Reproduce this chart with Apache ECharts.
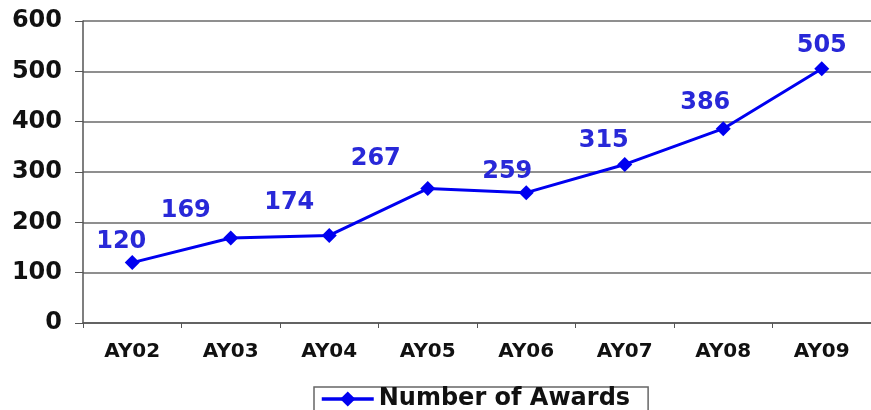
<!DOCTYPE html>
<html>
<head>
<meta charset="utf-8">
<script src="https://cdn.jsdelivr.net/npm/echarts@6/dist/echarts.min.js"></script>
<style>
  html, body { margin: 0; padding: 0; background: #fff; }
  #chart { width: 871px; height: 410px; }
</style>
</head>
<body>
<div id="chart"></div>
<script>
// academic years on the x axis
const years = ['AY02', 'AY03', 'AY04', 'AY05', 'AY06', 'AY07', 'AY08', 'AY09'];
// number of awards per year
const awards = [120, 169, 174, 267, 259, 315, 386, 505];
// y axis ticks
const yTicks = [0, 100, 200, 300, 400, 500, 600];

// value labels sit up and to the left of the points, not centred
const labelShift = [[-11, -21], [-45, -27], [-40, -33], [-52, -30], [-19, -21], [-21, -24], [-18, -26], [0, -23]];

const chart = echarts.init(document.getElementById('chart'), null, { renderer: 'canvas' });

const option = {
  backgroundColor: '#ffffff',
  animation: false,
  grid: { left: 83, top: 21, width: 798, height: 302, containLabel: false },
  legend: {
    data: [{ name: 'Number of Awards', itemStyle: { color: '#0000f0' } }],
    left: 314,
    top: 387,
    itemWidth: 52,
    itemHeight: 19,
    itemGap: 4,
    padding: [0, 18, 5, 6],
    borderColor: '#666',
    borderWidth: 1.5,
    lineStyle: { width: 3.5 },
    textStyle: { fontFamily: 'DejaVu Sans', fontWeight: 'bold', fontSize: 24, color: '#111' }
  },
  xAxis: {
    type: 'category',
    data: years,
    boundaryGap: true,
    axisLine: { lineStyle: { color: '#555', width: 1.5 } },
    axisTick: { show: true, length: 5, lineStyle: { color: '#555' } },
    axisLabel: { fontFamily: 'DejaVu Sans', fontWeight: 'bold', fontSize: 20, color: '#111', margin: 19 }
  },
  yAxis: {
    type: 'value',
    min: yTicks[0],
    max: yTicks[yTicks.length - 1],
    interval: 100,
    axisLine: { show: true, lineStyle: { color: '#555', width: 1.5 } },
    axisTick: { show: true, length: 8, lineStyle: { color: '#555' } },
    splitLine: { lineStyle: { color: '#6a6a6a', width: 1.5 } },
    axisLabel: { fontFamily: 'DejaVu Sans', fontWeight: 'bold', fontSize: 24, color: '#111', margin: 21 }
  },
  series: [{
    name: 'Number of Awards',
    type: 'line',
    data: awards.map((v, i) => ({ value: v, label: { offset: labelShift[i] } })),
    symbol: 'diamond',
    symbolSize: 15,
    lineStyle: { color: '#0000f0', width: 3 },
    itemStyle: { color: '#0000f0' },
    label: {
      show: true,
      position: 'inside',
      fontFamily: 'DejaVu Sans',
      fontWeight: 'bold',
      fontSize: 24,
      color: '#2828d8'
    }
  }]
};

chart.setOption(option);
</script>
</body>
</html>
